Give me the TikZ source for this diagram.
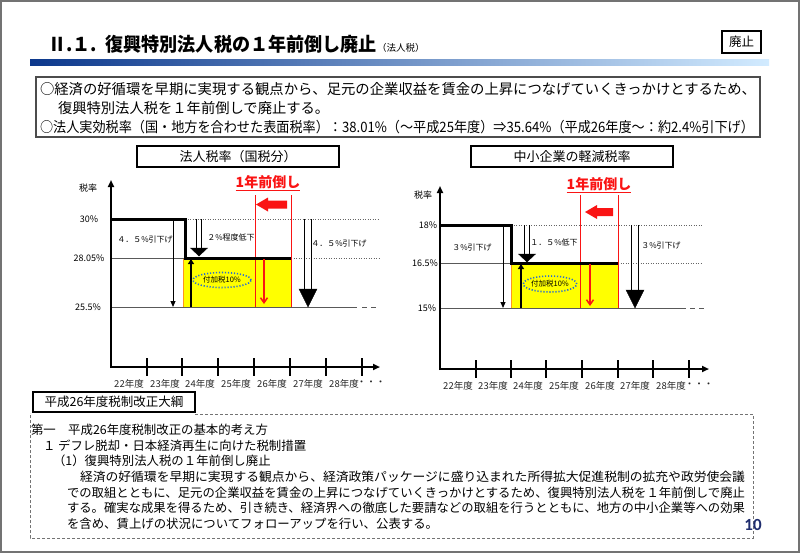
\documentclass[tikz,border=0pt]{standalone}
\usepackage{fontspec}
\usepackage{graphicx}
\setmainfont{Noto Sans CJK JP}
\newfontfamily\latinbold{Carlito}
\usetikzlibrary{arrows.meta,shapes.geometric}
\definecolor{navy}{RGB}{31,45,110}
\definecolor{bluedot}{RGB}{40,110,210}
\definecolor{barA}{RGB}{12,56,140}
\definecolor{barB}{RGB}{40,140,230}
\definecolor{barC}{RGB}{210,235,255}
\definecolor{redx}{RGB}{250,20,20}
\definecolor{yel}{RGB}{255,255,0}
\definecolor{orng}{RGB}{255,150,30}
\newlength\fitlen
\newcommand\fitbox[2]{\settowidth\fitlen{#2}\scalebox{\fpeval{(#1)/\fitlen}}[1]{#2}}
% hollow down arrow: x, ytop, ytip, half gap, head half width, head height
\newcommand\hollowdown[6]{%
  \draw[line width=1.3] (#1-#4,#2) -- (#1-#4,#3-#6) (#1+#4,#2) -- (#1+#4,#3-#6);
  \filldraw[black] (#1-#5,#3-#6) -- (#1+#5,#3-#6) -- (#1,#3) -- cycle;}
\begin{document}
\begin{tikzpicture}[x=1pt,y=-1pt,
  every node/.style={inner sep=0pt, outer sep=0pt},
  axisline/.style={line width=2.2, -{Triangle[length=7,width=6]}},
  tickline/.style={line width=2},
  yearlbl/.style={font=\fontsize{9.5}{11}\selectfont, text=black!85},
  levellbl/.style={font=\fontsize{9}{11}\selectfont},
  smalllbl/.style={font=\fontsize{8}{10}\selectfont},
  dotline/.style={draw=black!60, line width=0.9, dash pattern=on 1 off 1.5},
  baseln/.style={draw=black!65, line width=1},
  stepln/.style={line width=3},
  redln/.style={draw=redx, line width=1},
  titlebox/.style={draw, line width=1.8, minimum width=202, minimum height=21, font=\fontsize{13}{15}\selectfont},
  fwd/.style={font=\bfseries\fontsize{14}{16}\selectfont, text=redx},
  addtax/.style={ellipse, draw=bluedot, line width=1.6, dash pattern=on 1.2 off 1.8, font=\fontsize{7.5}{9}\selectfont},
  bodytxt/.style={font=\fontsize{12.4}{14}\selectfont, anchor=west},
  sumtxt/.style={font=\fontsize{14.3}{17}\selectfont, anchor=west}
]
\useasboundingbox (0,0) rectangle (800,555);
\fill[white] (0,0) rectangle (800,555);
\draw[draw=black!55, line width=2] (1,1) rectangle (798.5,552);

% ---------- header ----------
\node[anchor=west, font=\bfseries\fontsize{19}{22}\selectfont] (title) at (48,44) {\fitbox{329pt}{Ⅱ.１.\hspace{9pt}復興特別法人税の１年前倒し廃止}};
\node[anchor=base west, font=\fontsize{9.5}{11}\selectfont] (titlesub) at (title.base east) {（法人税）};
\node[draw, line width=1.2, minimum width=39, minimum height=22, font=\fontsize{12.5}{14}\selectfont] (haishi) at (741.5,42) {廃止};
\shade[left color=barA, middle color=barB, right color=barC] (30,59) rectangle (769,65);

% ---------- summary box ----------
\node[draw=black!70, line width=1.2, minimum width=724, minimum height=60, anchor=north west] (summary) at (36,77) {};
\node[sumtxt] (s1) at (40,89) {\fitbox{716pt}{○経済の好循環を早期に実現する観点から、足元の企業収益を賃金の上昇につなげていくきっかけとするため、}};
\node[sumtxt] (s2) at (58,108) {復興特別法人税を１年前倒しで廃止する。};
\node[sumtxt] (s3) at (40,127) {\fitbox{714pt}{○法人実効税率（国・地方を合わせた表面税率）：38.01\%（～平成25年度）⇒35.64\%（平成26年度～：約2.4\%引下げ）}};

% ---------- left chart ----------
\node[titlebox] (lt) at (238,156.5) {法人税率（国税分）};
\node[levellbl] (lrate) at (88,188) {税率};
\node[levellbl] (l30) at (89,219) {30\%};
\node[levellbl] (l28) at (89,258) {28.05\%};
\node[levellbl] (l25) at (88,307) {25.5\%};
\fill[yel] (183,258) rectangle (291,307);
\draw[orng, line width=1] (183.5,258) -- (183.5,307);
\draw[dotline] (185,219) -- (379,219);
\draw[dotline] (291,258) -- (379,258);
\draw[baseln] (111,258) -- (185,258);
\draw[baseln] (111,307) -- (357,307);
\draw[baseln, dash pattern=on 5 off 4] (362,307) -- (379,307);
\draw[redln] (255,195) -- (255,307);
\draw[redln] (291,195) -- (291,307);
\draw[stepln] (111,219) -- (185,219) -- (185,258) -- (291,258);
\draw[axisline] (111,368) -- (111,180);
\draw[axisline] (110,367) -- (380,367);
\foreach \xx in {147,182,218,254,290,326,362} \draw[tickline] (\xx,358) -- (\xx,376);
\foreach \xx/\yy in {129/22,165/23,200/24,236/25,272/26,308/27,344/28}
  \node[yearlbl] at (\xx,384) {\yy 年度};
\node[yearlbl] (ldots) at (371,383) {・・・};
\node[fwd] (lfwd) at (268,183) {\underline{1年前倒し}};
\fill[redx] (287,200.5) -- (268,200.5) -- (268,197.5) -- (256,204.5) -- (268,211.5) -- (268,208.5) -- (287,208.5) -- cycle;
\draw[redx, line width=1.5, -{Straight Barb[length=5,width=7]}] (264,259) -- (264,304);
\draw[line width=1, -{Triangle[length=6,width=5]}] (173,219) -- (173,307);
\draw[line width=2, -{Triangle[length=5,width=6]}] (191,307) -- (191,259);
\hollowdown{199}{219}{256}{2.6}{8.5}{8}
\hollowdown{308}{219}{307}{3.2}{9}{18}
\node[smalllbl] (l45a) at (145,239) {４．５\%引下げ};
\node[smalllbl] (l2p) at (231,237) {２\%程度低下};
\node[smalllbl] (l45b) at (339,243) {４．５\%引下げ};
\node[addtax, minimum width=58, minimum height=15] (ladd) at (222,280) {付加税10\%};

% ---------- right chart ----------
\node[titlebox] (rt) at (572,156.5) {中小企業の軽減税率};
\node[levellbl] (rrate) at (423,195) {税率};
\node[levellbl] (r18) at (428,225) {18\%};
\node[levellbl] (r16) at (425,263) {16.5\%};
\node[levellbl] (r15) at (427,308) {15\%};
\fill[yel] (511,263) rectangle (618,308);
\draw[orng, line width=1] (511.5,263) -- (511.5,308);
\draw[dotline] (511,225) -- (703,225);
\draw[dotline] (618,263) -- (703,263);
\draw[baseln] (440,263) -- (511,263);
\draw[baseln] (440,308) -- (686,308);
\draw[baseln, dash pattern=on 5 off 4] (690,308) -- (706,308);
\draw[redln] (580,195) -- (580,308);
\draw[redln] (618,195) -- (618,308);
\draw[stepln] (440,225) -- (511,225) -- (511,263) -- (618,263);
\draw[axisline] (440,370) -- (440,186);
\draw[axisline] (439,369) -- (709,369);
\foreach \xx in {476,511,546,582,618,653,689} \draw[tickline] (\xx,360) -- (\xx,378);
\foreach \xx/\yy in {458/22,493/23,528/24,564/25,600/26,635/27,671/28}
  \node[yearlbl] at (\xx,386) {\yy 年度};
\node[yearlbl] (rdots) at (699,385) {・・・};
\node[fwd] (rfwd) at (599,185) {\underline{1年前倒し}};
\fill[redx] (613,208) -- (597,208) -- (597,205) -- (585,212) -- (597,219) -- (597,216) -- (613,216) -- cycle;
\draw[redx, line width=1.5, -{Straight Barb[length=5,width=7]}] (590,264) -- (590,306);
\draw[line width=1, -{Triangle[length=6,width=5]}] (503,225) -- (503,308);
\draw[line width=2, -{Triangle[length=5,width=6]}] (521,308) -- (521,264);
\hollowdown{527}{225}{262}{2.6}{8.5}{8}
\hollowdown{635}{225}{308}{3.2}{9}{18}
\node[smalllbl] (r3a) at (472,247) {３\%引下げ};
\node[smalllbl] (r15p) at (554,242) {１．５\%低下};
\node[smalllbl] (r3b) at (661,245) {３\%引下げ};
\node[addtax, minimum width=50, minimum height=16] (radd) at (550,284) {付加税10\%};

% ---------- bottom ----------
\node[draw, line width=1.3, minimum width=162, minimum height=20, font=\fontsize{12.5}{14}\selectfont] (taiko) at (114,402) {平成26年度税制改正大綱};
\draw[draw=black!55, line width=1, dash pattern=on 3 off 2] (taiko.east |- 0,414) -- (753,414) -- (753,538) -- (30,538) -- (30,413);
\node[bodytxt] (b1) at (31,430) {第一　平成26年度税制改正の基本的考え方};
\node[bodytxt] (b2) at (43,445.5) {１ デフレ脱却・日本経済再生に向けた税制措置};
\node[bodytxt] (b3) at (53,461) {（1）復興特別法人税の１年前倒し廃止};
\node[bodytxt] (b4) at (80,477) {\fitbox{665pt}{経済の好循環を早期に実現する観点から、経済政策パッケージに盛り込まれた所得拡大促進税制の拡充や政労使会議}};
\node[bodytxt] (b5) at (67,492.5) {\fitbox{678pt}{での取組とともに、足元の企業収益を賃金の上昇につなげていくきっかけとするため、復興特別法人税を１年前倒しで廃止}};
\node[bodytxt] (b6) at (67,508) {\fitbox{678pt}{する。確実な成果を得るため、引き続き、経済界への徹底した要請などの取組を行うとともに、地方の中小企業等への効果}};
\node[bodytxt] (b7) at (67,523.5) {を含め、賃上げの状況についてフォローアップを行い、公表する。};
\node[font=\latinbold\bfseries\fontsize{17}{20}\selectfont, text=navy] (pnum) at (753,525) {10};
\end{tikzpicture}
\end{document}
